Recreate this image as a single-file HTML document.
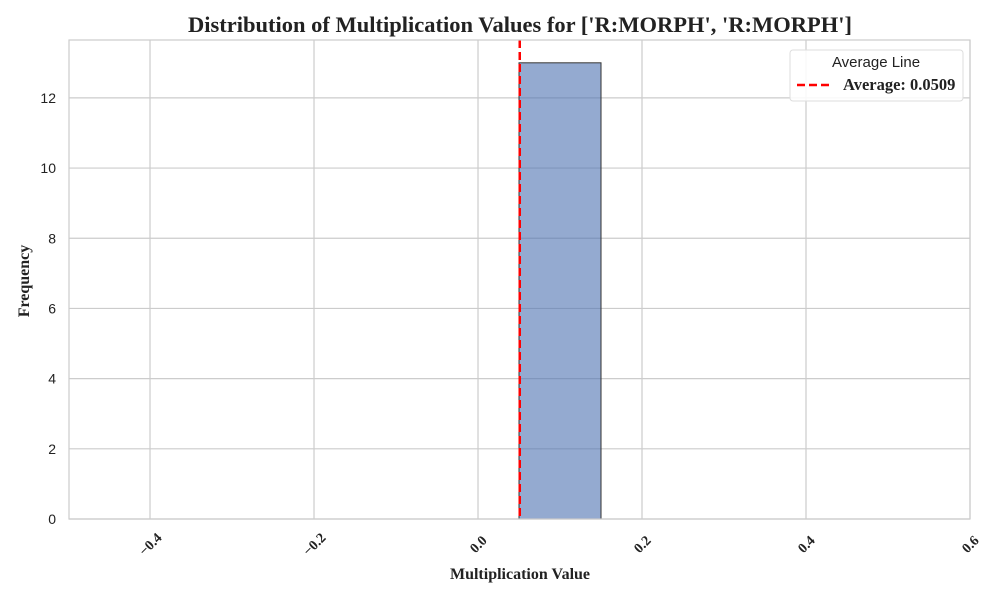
<!DOCTYPE html>
<html><head><meta charset="utf-8"><style>body{margin:0;background:#fff}svg{display:block}</style></head>
<body>
<svg id="chart" width="1000" height="600" xmlns="http://www.w3.org/2000/svg">
<rect width="1000" height="600" fill="#fff"/>
<text x="520" y="32" text-anchor="middle" font-family="Liberation Serif, serif" font-weight="bold" font-size="22.5" fill="#222">Distribution of Multiplication Values for ['R:MORPH', 'R:MORPH']</text>
<g id="grid"></g>
<g id="bars"></g>
<g id="ticks"></g>
<rect x="69" y="40" width="901" height="479" fill="none" stroke="#ccc" stroke-width="1.2"/>
<text x="520" y="579" text-anchor="middle" font-family="Liberation Serif, serif" font-weight="bold" font-size="16" fill="#222">Multiplication Value</text>
<text transform="translate(29,281) rotate(-90)" text-anchor="middle" font-family="Liberation Serif, serif" font-weight="bold" font-size="16" fill="#222">Frequency</text>
<g>
<rect x="790" y="50" width="173" height="51" rx="3" fill="#fff" fill-opacity="0.85" stroke="#ddd"/>
<text x="876" y="67" text-anchor="middle" font-family="Liberation Sans, sans-serif" font-size="15" fill="#222">Average Line</text>
<line x1="797" y1="85" x2="829" y2="85" stroke="red" stroke-width="2.5" stroke-dasharray="8,4"/>
<text x="843" y="90" font-family="Liberation Serif, serif" font-weight="bold" font-size="16.5" fill="#222">Average: 0.0509</text>
</g>
</svg>
<script>
const binEdges = [0.05, 0.15];
const binCounts = [13];
const averageValue = 0.0509;
const xTickValues = [-0.4, -0.2, 0.0, 0.2, 0.4, 0.6];
const xTickLabels = ["\u22120.4", "\u22120.2", "0.0", "0.2", "0.4", "0.6"];
const yTickValues = [0, 2, 4, 6, 8, 10, 12];

const X0 = 69, X1 = 970, Y0 = 519, Y1 = 40;
const xMin = -0.4988, xMax = 0.6, yMin = 0, yMax = 13.65;
const xs = v => X0 + (v - xMin) / (xMax - xMin) * (X1 - X0);
const ys = v => Y0 - (v - yMin) / (yMax - yMin) * (Y0 - Y1);
const NS = "http://www.w3.org/2000/svg";
function mk(tag, attrs, parent) { const e = document.createElementNS(NS, tag); for (const k in attrs) e.setAttribute(k, attrs[k]); parent.appendChild(e); return e; }
const grid = document.getElementById("grid"), bars = document.getElementById("bars"), ticks = document.getElementById("ticks");

xTickValues.forEach((v, i) => {
  const x = xs(v);
  const g = mk("line", {x1: x, x2: x, y1: Y1, y2: Y0, stroke: "#ccc", "stroke-width": 1.2}, grid);
  
  
  const t = mk("text", {x: x, y: 549, "text-anchor": "middle", transform: `rotate(-45 ${x} 544)`, "font-family": "Liberation Serif, serif", "font-weight": "bold", "font-size": 14, fill: "#222"}, ticks);
  t.textContent = xTickLabels[i];
  
  
});
yTickValues.forEach(v => {
  const y = ys(v);
  const g = mk("line", {x1: X0, x2: X1, y1: y, y2: y, stroke: "#ccc", "stroke-width": 1.2}, grid);
  
  
  const t = mk("text", {x: 56, y: y + 5, "text-anchor": "end", "font-family": "Liberation Sans, sans-serif", "font-size": 14, fill: "#222"}, ticks);
  t.textContent = String(v);
  
  
});
binCounts.forEach((c, i) => {
  const xa = xs(binEdges[i]), xb = xs(binEdges[i + 1]);
  const r = mk("rect", {x: xa, y: ys(c), width: xb - xa, height: ys(0) - ys(c), fill: "#4c72b0", "fill-opacity": 0.6, stroke: "#333", "stroke-width": 1}, bars);
  
  
});
const ax = xs(averageValue);
const al = mk("line", {x1: ax, x2: ax, y1: Y1, y2: Y0, stroke: "red", "stroke-width": 2.5, "stroke-dasharray": "8,4"}, bars);


</script>
</body></html>
